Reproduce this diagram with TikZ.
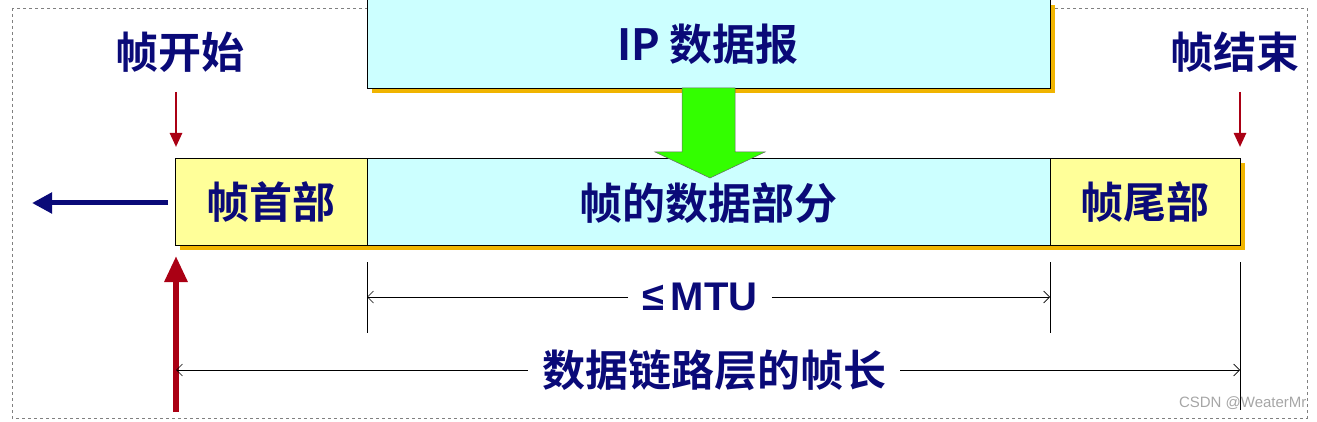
\documentclass[tikz,border=0pt]{standalone}
\usepackage{fontspec}
\setmainfont{Liberation Sans}
\newfontfamily\cjk{Noto Sans CJK SC}[BoldFont={* Bold}]
\usetikzlibrary{arrows.meta}
\definecolor{navy}{RGB}{10,10,120}
\definecolor{cy}{RGB}{204,255,255}
\definecolor{yl}{RGB}{255,255,153}
\definecolor{dred}{RGB}{170,0,20}
\definecolor{shad}{RGB}{240,180,0}
\tikzset{
  lab/.style={text=navy,font=\cjk\bfseries\fontsize{43}{43}\selectfont,inner sep=0pt},
  dim/.style={line width=0.7pt},
  box/.style={draw=black,line width=0.6pt},
  redarr/.style={draw=dred,-{Triangle[length=14pt,width=12pt]}},
}
\begin{document}
\begin{tikzpicture}[x=1pt,y=-1pt]
\useasboundingbox (0,0) rectangle (1317,422);
\draw[gray,dashed,line width=0.8pt] (12,8) rectangle (1307,418);
% shadows
\fill[shad] (372,5) rectangle (1055,93);
\fill[shad] (180,163) rectangle (1245,250);
% IP box
\node[box,fill=cy,minimum width=683,minimum height=96,anchor=north west] (ip) at (367,-8) {};
\node[lab] (iplab) at (708,44) {IP 数据报};
% frame
\node[box,fill=yl,minimum width=192,minimum height=87,anchor=north west] (hd) at (175,158) {};
\node[box,fill=cy,minimum width=683,minimum height=87,anchor=north west] (dt) at (367,158) {};
\node[box,fill=yl,minimum width=190,minimum height=87,anchor=north west] (tl) at (1050,158) {};
% green arrow
\draw[fill=green!80!yellow,draw=black!60,line width=0.5pt] (682,88) -- (735,88) -- (735,152) -- (765,152) -- (710,178) -- (655,152) -- (682,152) -- cycle;
\node[lab] at (hd.center) {帧首部};
\node[lab] at (708,203) {帧的数据部分};
\node[lab] at (tl.center) {帧尾部};
% blue arrow
\coordinate (bs) at (168,203); \coordinate (be) at (32,203);
\draw[navy,line width=5pt,-{Triangle[length=20pt,width=20pt]}] (bs) -- (be);
% labels
\node[lab] (st) at (180,52) {帧开始};
\node[lab] (en) at (1235,52) {帧结束};
\coordinate (s1) at (176,92); \coordinate (s2) at (176,147);
\coordinate (e1) at (1240,92); \coordinate (e2) at (1240,147);
\draw[redarr,line width=2.5pt] (s1) -- (s2);
\draw[redarr,line width=2.5pt] (e1) -- (e2);
\coordinate (b1) at (176,412); \coordinate (b2) at (176,256);
\draw[draw=dred,line width=6pt,-{Triangle[length=26pt,width=22pt]}] (b1) -- (b2);
% dimension lines
\draw[line width=0.7pt] (367,262) -- (367,333) (1050,262) -- (1050,333) (1240,262) -- (1240,410);
\node[lab,fill=white,inner xsep=14pt,font=\bfseries\fontsize{40}{40}\selectfont] (mtu) at (700,297) {≤\,MTU};
\draw[dim,-{Straight Barb[length=6pt]}] (mtu.west) -- (367,297);
\draw[dim,-{Straight Barb[length=6pt]}] (mtu.east) -- (1050,297);
\node[lab,fill=white,inner xsep=14pt] (len) at (714,370) {数据链路层的帧长};
\draw[dim,-{Straight Barb[length=6pt]}] (len.west) -- (176,370);
\draw[dim,-{Straight Barb[length=6pt]}] (len.east) -- (1240,370);
\node[text=gray!70,font=\fontsize{15}{15}\selectfont,anchor=east] (wm) at (1310,403) {CSDN @WeaterMr};
\end{tikzpicture}
\end{document}
